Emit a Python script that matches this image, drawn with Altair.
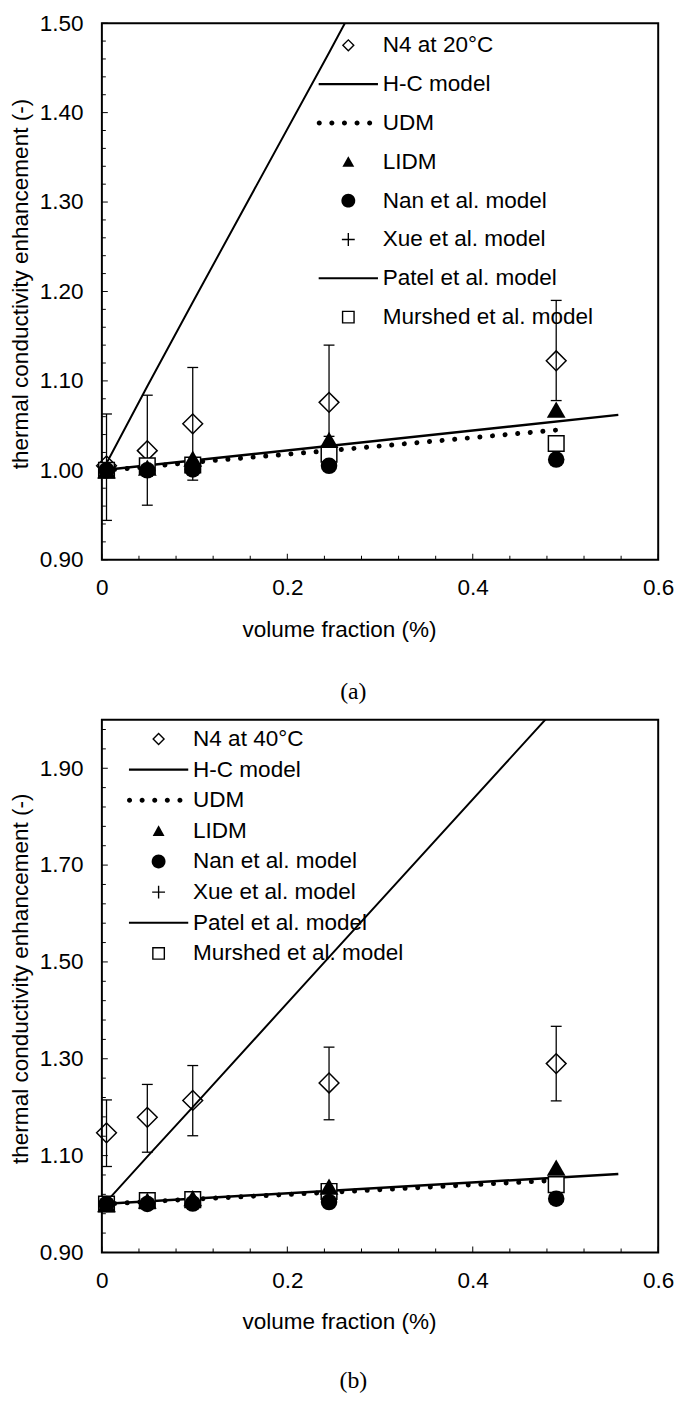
import altair as alt
import pandas as pd

FONT = "Liberation Sans"
SERIF = "Liberation Serif"
FS = 22.8

# ---------------- data ----------------
x_pts = [0.005, 0.049, 0.098, 0.245, 0.49]
udm_x = [0.0, 0.005, 0.049, 0.098, 0.245, 0.49]
patel_x = [0.0, 0.557]

x_major = [0.0, 0.2, 0.4, 0.6]
x_minor = [0.04, 0.08, 0.12, 0.16, 0.24, 0.28, 0.32, 0.36, 0.44, 0.48, 0.52, 0.56]

# panel (a)  N4 at 20 C
a_labels = ["N4 at 20°C", "H-C model", "UDM", "LIDM", "Nan et al. model",
            "Xue et al. model", "Patel et al. model", "Murshed et al. model"]
a_n4 = [1.005, 1.022, 1.052, 1.076, 1.1225]
a_n4_hi = [1.063, 1.084, 1.115, 1.140, 1.190]
a_n4_lo = [0.944, 0.961, 0.989, 1.038, 1.078]
a_hc = [1.008, 1.094, 1.188, 1.467, 1.94]
a_udm = [1.0, 1.0, 1.004, 1.009, 1.022, 1.045]
a_lidm = [1.0, 1.003, 1.013, 1.034, 1.068]
a_nan = [1.0, 1.0, 1.001, 1.005, 1.012]
a_xue = [1.0, 1.0, 1.002, 1.006, 1.013]
a_patel = [1.0, 1.062]
a_mursh = [1.0, 1.005, 1.006, 1.018, 1.030]
a_y_major = [0.9, 1.0, 1.1, 1.2, 1.3, 1.4, 1.5]
a_y_minor = [0.92, 0.94, 0.96, 0.98, 1.02, 1.04, 1.06, 1.08, 1.12, 1.14, 1.16, 1.18,
             1.22, 1.24, 1.26, 1.28, 1.32, 1.34, 1.36, 1.38, 1.42, 1.44, 1.46, 1.48]

# panel (b)  N4 at 40 C
b_labels = ["N4 at 40°C", "H-C model", "UDM", "LIDM", "Nan et al. model",
            "Xue et al. model", "Patel et al. model", "Murshed et al. model"]
b_n4 = [1.147, 1.179, 1.214, 1.250, 1.290]
b_n4_hi = [1.215, 1.247, 1.286, 1.324, 1.367]
b_n4_lo = [1.0775, 1.107, 1.141, 1.174, 1.213]
b_hc = [1.005, 1.098, 1.20, 1.51, 2.025]
b_udm = [1.0, 1.0, 1.005, 1.010, 1.024, 1.049]
b_lidm = [1.0, 1.007, 1.012, 1.036, 1.075]
b_nan = [1.0, 1.0, 1.001, 1.004, 1.011]
b_xue = [1.0, 1.0, 1.002, 1.005, 1.012]
b_patel = [1.0, 1.062]
b_mursh = [1.0, 1.007, 1.009, 1.026, 1.040]
b_y_major = [0.9, 1.1, 1.3, 1.5, 1.7, 1.9]
b_y_minor = [0.94, 0.98, 1.02, 1.06, 1.14, 1.18, 1.22, 1.26, 1.34, 1.38, 1.42, 1.46,
             1.54, 1.58, 1.62, 1.66, 1.74, 1.78, 1.82, 1.86, 1.94, 1.98]

# ---------------- legend symbol shapes (1 unit = 10 px, symbolSize 400) ----------------
def _dots():
    r = 0.255
    parts = []
    for cx in [-2.94, -1.665, -0.39, 0.885, 2.16]:
        parts.append(f"M{cx - r:.3f},0A{r} {r} 0 1 1 {cx + r:.3f},0A{r} {r} 0 1 1 {cx - r:.3f},0Z")
    return "".join(parts)

LEG_SHAPES = [
    "M0,-0.651L0.651,0L0,0.651L-0.651,0Z M0,-0.453L-0.453,0L0,0.453L0.453,0Z",   # open diamond
    "M-3,-0.105H3V0.105H-3Z",                                                   # solid line
    _dots(),                                                                    # dotted line
    "M0,-0.57L0.6,0.51L-0.6,0.51Z",                                             # filled triangle
    "M-0.7,0A0.7 0.7 0 1 1 0.7,0A0.7 0.7 0 1 1 -0.7,0Z",                       # filled circle
    "M-0.651,-0.069H0.651V0.069H-0.651Z M-0.069,-0.651H0.069V0.651H-0.069Z",    # plus
    "M-3,-0.105H3V0.105H-3Z",                                                   # solid line
    "M-0.651,-0.651H0.651V0.651H-0.651Z M-0.51,-0.51V0.51H0.51V-0.51Z",         # open square
]


def panel(labels, n4, n4_hi, n4_lo, hc, udm, lidm, nan_, xue, patel, mursh,
          y_dom, y_major, y_minor, h, leg_x, leg_y, row_pad, caption, cap_offset,
          y_title_y, x_title_y):
    xs = alt.Scale(domain=[0, 0.6], nice=False, zero=False)
    ys = alt.Scale(domain=y_dom, nice=False, zero=False)
    x_axis = alt.Axis(values=x_major, format="~g", labelFlush=False, ticks=False, tickSize=0,
                      domain=False, grid=False, labelFont=FONT, labelFontSize=FS,
                      labelColor="black", labelPadding=17.5,
                      title="volume fraction (%)", titleFont=FONT, titleFontSize=FS,
                      titleFontWeight="normal", titleColor="black", titleX=240,
                      titleY=x_title_y, titleAlign="center", titleBaseline="alphabetic")
    y_axis = alt.Axis(values=y_major, format=".2f", ticks=False, tickSize=0, domain=False,
                      grid=False, labelFont=FONT, labelFontSize=FS, labelColor="black",
                      labelPadding=19, title="thermal conductivity enhancement (-)",
                      titleFont=FONT, titleFontSize=FS, titleFontWeight="normal",
                      titleColor="black", titleX=-75.7, titleY=y_title_y, titleAngle=-90,
                      titleAlign="center", titleBaseline="alphabetic")
    X = alt.X("x:Q", scale=xs, axis=x_axis)
    Y = alt.Y("y:Q", scale=ys, axis=y_axis)

    layers = []
    # inside ticks (y)
    layers.append(alt.Chart(pd.DataFrame({"x": [0.0] * len(y_minor), "y": y_minor}))
                  .mark_tick(orient="horizontal", size=4, thickness=1, xOffset=2,
                             color="black", opacity=1).encode(x=X, y=Y))
    layers.append(alt.Chart(pd.DataFrame({"x": [0.0] * len(y_major), "y": y_major}))
                  .mark_tick(orient="horizontal", size=6, thickness=1, xOffset=3,
                             color="black", opacity=1).encode(x=X, y=Y))
    # inside ticks (x)
    layers.append(alt.Chart(pd.DataFrame({"x": x_minor, "y": [y_dom[0]] * len(x_minor)}))
                  .mark_tick(orient="vertical", size=4, thickness=1, yOffset=-2,
                             color="black", opacity=1).encode(x=X, y=Y))
    layers.append(alt.Chart(pd.DataFrame({"x": x_major, "y": [y_dom[0]] * len(x_major)}))
                  .mark_tick(orient="vertical", size=6, thickness=1, yOffset=-3,
                             color="black", opacity=1).encode(x=X, y=Y))
    # error bars
    layers.append(alt.Chart(pd.DataFrame({"x": x_pts, "y": n4_lo, "y2": n4_hi}))
                  .mark_rule(color="black", strokeWidth=1.3).encode(x=X, y=Y, y2="y2:Q"))
    layers.append(alt.Chart(pd.DataFrame({"x": x_pts + x_pts, "y": n4_lo + n4_hi}))
                  .mark_tick(orient="horizontal", size=11, thickness=1.3, color="black",
                             opacity=1).encode(x=X, y=Y))
    # N4 diamonds
    layers.append(alt.Chart(pd.DataFrame({"x": x_pts, "y": n4}))
                  .mark_point(shape="diamond", size=400, filled=False, color="black",
                              stroke="black", strokeWidth=1.5, opacity=1).encode(x=X, y=Y))
    # H-C model (steep line)
    layers.append(alt.Chart(pd.DataFrame({"x": x_pts, "y": hc}))
                  .mark_line(color="black", strokeWidth=2, clip=True).encode(x=X, y=Y))
    # UDM dotted
    layers.append(alt.Chart(pd.DataFrame({"x": udm_x, "y": udm}))
                  .mark_line(color="black", strokeWidth=5, strokeDash=[0.1, 12.7],
                             strokeCap="round").encode(x=X, y=Y))
    # Patel line
    layers.append(alt.Chart(pd.DataFrame({"x": patel_x, "y": patel}))
                  .mark_line(color="black", strokeWidth=2.5).encode(x=X, y=Y))
    # Murshed squares
    layers.append(alt.Chart(pd.DataFrame({"x": x_pts, "y": mursh}))
                  .mark_point(shape="square", size=250, filled=True, fill="white",
                              stroke="black", strokeWidth=1.5, opacity=1).encode(x=X, y=Y))
    # Xue plus
    layers.append(alt.Chart(pd.DataFrame({"x": x_pts, "y": xue}))
                  .mark_point(shape="M-1,0H1M0,-1V1", size=144, filled=False, color="black",
                              stroke="black", strokeWidth=1.5, opacity=1).encode(x=X, y=Y))
    # LIDM triangles
    layers.append(alt.Chart(pd.DataFrame({"x": x_pts, "y": lidm}))
                  .mark_point(shape="triangle-up", size=361, filled=True, color="black",
                              opacity=1).encode(x=X, y=Y))
    # Nan circles
    layers.append(alt.Chart(pd.DataFrame({"x": x_pts, "y": nan_}))
                  .mark_point(shape="circle", size=280, filled=True, color="black",
                              opacity=1).encode(x=X, y=Y))
    # legend carrier (no visible marks)
    leg_df = pd.DataFrame({"x": [0.0] * len(labels), "y": [y_dom[0]] * len(labels),
                           "series": labels})
    layers.append(alt.Chart(leg_df).mark_point(filled=True, color="black", opacity=1,
                                               strokeWidth=0)
                  .encode(x=X, y=Y,
                          shape=alt.Shape("series:N",
                                          scale=alt.Scale(domain=labels, range=LEG_SHAPES),
                                          legend=alt.Legend(title=None, orient="none",
                                                            legendX=leg_x, legendY=leg_y,
                                                            labelFont=FONT, labelFontSize=FS,
                                                            labelColor="black",
                                                            labelOffset=23.5,
                                                            labelLimit=600, rowPadding=row_pad,
                                                            symbolSize=400,
                                                            symbolStrokeWidth=0,
                                                            symbolFillColor="black",
                                                            padding=0)))
                  .transform_filter("false"))

    return alt.layer(*layers).properties(
        width=563, height=h,
        title=alt.TitleParams(text=caption, orient="bottom", font=SERIF, fontSize=24,
                              fontWeight="normal", color="black", anchor="middle",
                              frame="group", dx=-27, offset=cap_offset))


pa = panel(a_labels, a_n4, a_n4_hi, a_n4_lo, a_hc, a_udm, a_lidm, a_nan, a_xue, a_patel,
           a_mursh, [0.9, 1.5], a_y_major, a_y_minor, 543, 238, 11, 15.3, "(a)", 39.5,
           263.5, 78)
pb = panel(b_labels, b_n4, b_n4_hi, b_n4_lo, b_hc, b_udm, b_lidm, b_nan, b_xue, b_patel,
           b_mursh, [0.9, 2.0], b_y_major, b_y_minor, 539, 46, 8, 7.0, "(b)", 36.5,
           261.5, 77)

chart = (alt.vconcat(pa, pb, spacing=13)
         .resolve_scale(shape="independent", x="independent", y="independent")
         .resolve_legend(shape="independent")
         .properties(padding={"left": 0, "top": -5, "right": 0, "bottom": 0})
         .configure(font=FONT)
         .configure_view(stroke="black", strokeWidth=2))

chart.save("out.html", embed_options={"renderer": "svg", "actions": False})
